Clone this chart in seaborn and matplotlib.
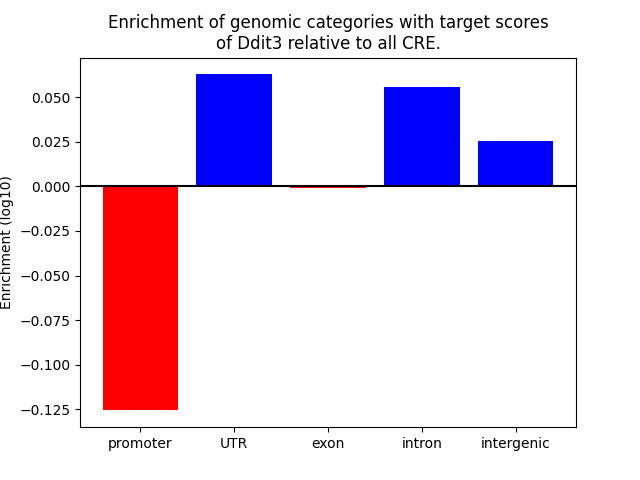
import matplotlib
matplotlib.use("Agg")
import matplotlib.pyplot as plt
import seaborn as sns
import pandas as pd

categories = ["promoter", "UTR", "exon", "intron", "intergenic"]
enrichment = [-0.1257, 0.0629, -0.0010, 0.0556, 0.0253]

df = pd.DataFrame({"category": categories, "enrichment": enrichment})
colors = ["red" if v < 0 else "blue" for v in enrichment]

fig, ax = plt.subplots(figsize=(6.4, 4.8), dpi=100)
sns.barplot(data=df, x="category", y="enrichment", hue="category",
            palette=colors, saturation=1, width=0.8, legend=False, ax=ax)
ax.axhline(0, color="black", linewidth=1.5)
# matplotlib-style 5% margins around the bar edges
n = len(categories)
pad = 0.05 * (n - 1 + 0.8)
ax.set_xlim(-0.4 - pad, n - 1 + 0.4 + pad)
ax.margins(y=0.05)
ax.set_title("Enrichment of genomic categories with target scores\nof Ddit3 relative to all CRE.")
ax.set_xlabel("")
ax.set_ylabel("Enrichment (log10)")
fig.savefig("out.png")
